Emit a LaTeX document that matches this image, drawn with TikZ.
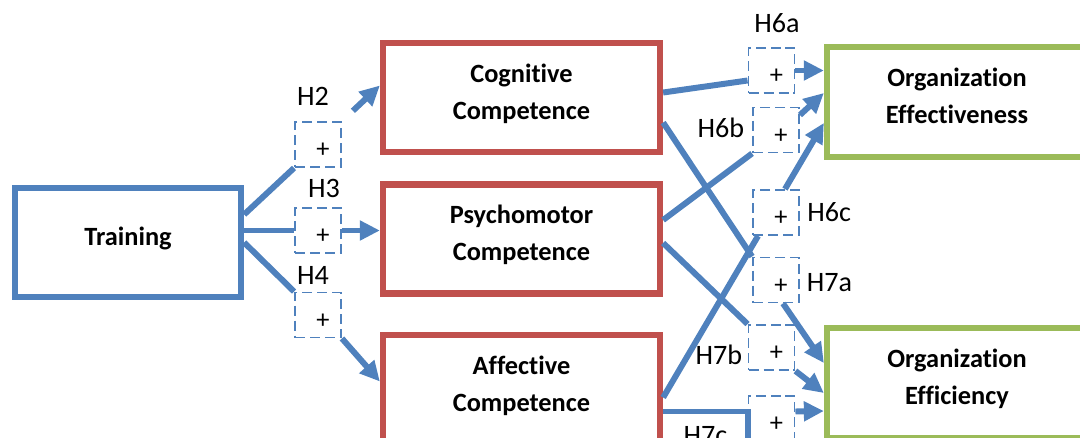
\documentclass[tikz,border=0pt]{standalone}
\usepackage{fontspec}
\setmainfont{Carlito}[Ligatures=NoCommon]
\usepackage{tikz}
\usetikzlibrary{positioning}
\usetikzlibrary{calc}
\usetikzlibrary{arrows.meta}
\definecolor{trainblue}{HTML}{4F81BD}
\definecolor{compred}{HTML}{C0504D}
\definecolor{outgreen}{HTML}{9BBB59}

\begin{document}
\begin{tikzpicture}[
    x=0.02cm, y=-0.02cm,
    box/.style={
        draw,
        line width=3.6pt,
        fill=white,
        minimum width=5.54cm,
        minimum height=2.18cm,
        text depth=7pt,
        align=center,
        font=\fontsize{15}{21}\selectfont\bfseries
    },
    hyp/.style={
        draw=trainblue,
        line width=1.1pt,
        dash pattern=on 0.2cm off 0.1cm,
        minimum width=0.92cm,
        minimum height=0.9cm,
        inner sep=0pt,
        label={[plus, xshift=0.1cm, yshift=-0.12cm]center:+}
    },
    plus/.style={font=\fontsize{15}{17}\selectfont, inner sep=0pt},
    hlab/.style={font=\fontsize{16}{18}\selectfont, inner sep=0pt},
    link/.style={draw=trainblue, line width=3.4pt},
    arr/.style={link, -{Triangle[length=0.4cm, width=0.38cm]}}
]
\useasboundingbox (0,0) rectangle (1080,437);
\clip (0,0) rectangle (1080,437);

% Main nodes
\node[box, draw=trainblue, minimum width=4.52cm] (train) at (128,242.5) {Training};

\node[box, draw=compred] (cog) at (521.5,97.5) {Cognitive\\Competence};
\node[box, draw=compred] (psy) at (521.5,239) {Psychomotor\\Competence};
\node[box, draw=compred] (aff) at (521.5,389.5) {Affective\\Competence};

\node[box, draw=outgreen, minimum width=5.2cm, minimum height=2.2cm] (effect) at (957,102) {Organization\\Effectiveness};
\node[box, draw=outgreen, minimum width=5.2cm, minimum height=2.2cm] (effic) at (957,383) {Organization\\Efficiency};

% Hypothesis boxes
\node[hyp] (h2) at (318,144.5) {};
\node[hyp] (h3) at (318,230.5) {};
\node[hyp] (h4) at (318,315) {};
\node[hyp] (h6a) at (771.5,70.5) {};
\node[hyp] (h6b) at (776,130) {};
\node[hyp] (h6c) at (776,212.5) {};
\node[hyp] (h7a) at (776,280) {};
\node[hyp] (h7b) at (771.5,347.5) {};
\node[hyp] (h7c) at (771.5,418.5) {};

% Hypothesis labels
\node[hlab, above=0.3cm of h2, xshift=-0.1cm] (lh2) {H2};
\node[hlab, above=0.19cm of h3, xshift=0.12cm] (lh3) {H3};
\node[hlab, above=0.13cm of h4, xshift=-0.1cm] (lh4) {H4};
\node[hlab, above=0.28cm of h6a, xshift=0.11cm] (lh6a) {H6a};
\node[hlab, left=0.15cm of h6b, yshift=0.04cm] (lh6b) {H6b};
\node[hlab, right=0.14cm of h6c] (lh6c) {H6c};
\node[hlab, right=0.13cm of h7a, yshift=-0.06cm] (lh7a) {H7a};
\node[hlab, left=0.1cm of h7b, yshift=-0.15cm] (lh7b) {H7b};
\node[hlab, left=0.4cm of h7c, yshift=-0.35cm] (lh7c) {H7c};

% Training to competences
\draw[link] ($(train.east)+(0,-28)$) -- (h2.south west);
\draw[arr, shorten <=0.3cm] (h2.north east) -- ($(cog.west)+(0,-12)$);
\draw[link] (train.east |- h3.west) -- (h3.west);
\draw[arr] (h3.east) -- (psy.west |- h3.east);
\draw[link] (train.east) -- (h4.north west);
\draw[arr] (h4.south east) -- ($(aff.west)+(0,-8)$);

% Competences to outcomes
\draw[link] ($(cog.east)+(0,-5)$) -- ($(h6a.west)+(0,10)$);
\draw[arr] (h6a.east) -- (effect.west |- h6a.east);
\draw[link] ($(psy.east)+(0,-19)$) -- (h6b.south west);
\draw[arr] ($(h6b.east)+(0,-15)$) -- ($(effect.west)+(0,-9)$);
\draw[link] ($(aff.east)+(0,8)$) -- ($(h6c.south west)+(6,0)$);
\draw[arr] ($(h6c.north)+(9,0)$) -- ($(effect.west)+(0,21)$);
\draw[link] ($(cog.east)+(0,25)$) -- (h7a.north west);
\draw[arr] ($(h7a.south)+(7,0)$) -- ($(effic.west)+(0,-20)$);
\draw[link] ($(psy.east)+(0,4)$) -- (h7b.north west);
\draw[arr] (h7b.south east) -- ($(effic.west)+(0,10)$);
\draw[link] ($(aff.east)+(0,22)$) -| (h7c.south west);
\draw[arr] ($(h7c.east)+(0,-7)$) -- ($(effic.west)+(0,28)$);

\end{tikzpicture}
\end{document}
